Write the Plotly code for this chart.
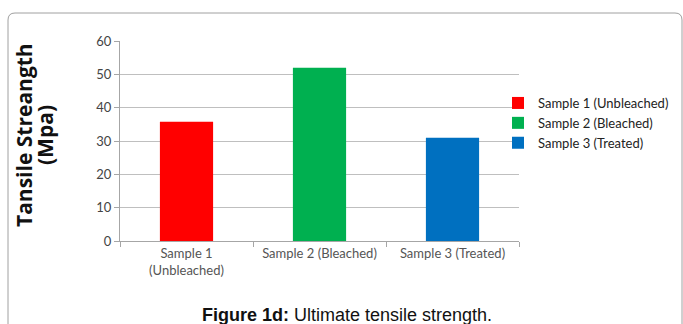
import plotly.graph_objects as go

categories = ["Sample 1<br>(Unbleached)", "Sample 2 (Bleached)", "Sample 3 (Treated)"]
legend_names = ["Sample 1 (Unbleached)", "Sample 2 (Bleached)", "Sample 3 (Treated)"]
values = [35.8, 52, 31]
colors = ["#ff0000", "#00b050", "#0070c0"]
y_ticks = [0, 10, 20, 30, 40, 50, 60]

L, R, T, B = 120, 519, 41, 241
W, H = 683, 324

def px(x):
    return (x - L) / (R - L)

def py(y):
    return (B - y) / (B - T)

fig = go.Figure()
for c, n, v, col in zip(categories, legend_names, values, colors):
    fig.add_trace(go.Bar(x=[c], y=[v], name=n, marker=dict(color=col, line=dict(width=0)), width=0.4))

font_c = "Lato, 'Open Sans', sans-serif"
fig.update_layout(
    width=W, height=H,
    margin=dict(l=L, r=W - R, t=T, b=H - B, pad=0, autoexpand=False),
    paper_bgcolor="white", plot_bgcolor="white",
    barmode="overlay",
    showlegend=True,
    legend=dict(x=px(498), y=py(88), xanchor="left", yanchor="top",
                font=dict(family=font_c, size=13, color="#222"),
                itemwidth=30, tracegroupgap=0, bgcolor="rgba(0,0,0,0)"),
    xaxis=dict(categoryorder="array", categoryarray=categories,
               showline=True, linecolor="#a6a6a6", linewidth=1,
               ticks="outside", tickson="boundaries", ticklen=5, tickcolor="#a6a6a6",
               tickfont=dict(family=font_c, size=13, color="#555"),
               showgrid=False, fixedrange=True),
    yaxis=dict(range=[0, 60], tickvals=y_ticks, showline=True, linecolor="#a6a6a6", linewidth=1,
               ticks="outside", ticklen=5, tickcolor="#a6a6a6",
               showgrid=True, gridcolor="#bfbfbf", gridwidth=1,
               tickfont=dict(family=font_c, size=13, color="#444"), zeroline=False),
    font=dict(family=font_c),
)

title_font = dict(family="'Open Sans', Lato, sans-serif", size=21, color="#111")
fig.add_annotation(text="<b>Tansile Streangth</b>", textangle=-90,
                   xref="paper", yref="paper", x=px(24), y=py(135),
                   showarrow=False, font=title_font,
                   xanchor="center", yanchor="middle")
fig.add_annotation(text="<b>(Mpa)</b>", textangle=-90,
                   xref="paper", yref="paper", x=px(45), y=py(135),
                   showarrow=False, font=title_font,
                   xanchor="center", yanchor="middle")
fig.add_annotation(text="<b>Figure 1d:</b> Ultimate tensile strength.",
                   xref="paper", yref="paper", x=px(347), y=py(315),
                   showarrow=False, font=dict(family="Liberation Sans, Arial", size=18, color="#111"),
                   xanchor="center", yanchor="middle")

path = (f"M {px(8)},{py(330)} L {px(8)},{py(20)} Q {px(8)},{py(13)} {px(15)},{py(13)} "
        f"L {px(675)},{py(13)} Q {px(682)},{py(13)} {px(682)},{py(20)} L {px(682)},{py(330)}")
fig.add_shape(type="path", path=path, xref="paper", yref="paper",
              line=dict(color="#a0a0a0", width=1), layer="below")

fig.write_html("out.html")
